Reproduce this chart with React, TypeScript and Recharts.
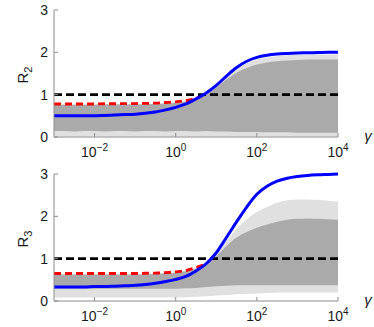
import React from 'react'
import { ComposedChart, Area, Line, XAxis, YAxis, ReferenceLine } from 'recharts'

// log10(gamma) sample positions
const LOG_GAMMA = [-3, -2.75, -2.5, -2.25, -2, -1.75, -1.5, -1.25, -1, -0.75, -0.5, -0.25, 0, 0.25, 0.5, 0.75, 1, 1.25, 1.5, 1.75, 2, 2.25, 2.5, 2.75, 3, 3.25, 3.5, 3.75, 4]
const X_TICKS = [-2, 0, 2, 4]
const Y_TICKS = [0, 1, 2, 3]
const THRESHOLD = 1

// R2 panel
const R2_BLUE = [0.5, 0.5, 0.5, 0.5, 0.5, 0.51, 0.52, 0.53, 0.54, 0.56, 0.59, 0.64, 0.7, 0.78, 0.9, 1.04, 1.22, 1.44, 1.64, 1.79, 1.88, 1.93, 1.96, 1.975, 1.985, 1.99, 1.995, 2, 2]
const R2_RED = [0.78, 0.78, 0.78, 0.78, 0.78, 0.785, 0.785, 0.79, 0.79, 0.795, 0.8, 0.815, 0.83, 0.86, 0.91, 1.04, null, null, null, null, null, null, null, null, null, null, null, null, null]
const R2_DENSE_LO = [0.14, 0.14, 0.13, 0.14, 0.14, 0.13, 0.14, 0.14, 0.13, 0.14, 0.14, 0.13, 0.14, 0.14, 0.13, 0.14, 0.13, 0.13, 0.12, 0.12, 0.12, 0.11, 0.11, 0.11, 0.1, 0.1, 0.1, 0.1, 0.1]
const R2_DENSE_HI = [0.76, 0.76, 0.76, 0.76, 0.76, 0.765, 0.765, 0.77, 0.77, 0.775, 0.78, 0.79, 0.81, 0.84, 0.88, 1.0, 1.17, 1.36, 1.52, 1.63, 1.71, 1.76, 1.79, 1.81, 1.82, 1.83, 1.83, 1.83, 1.83]
const R2_SPARSE_LO = [0.01, 0.01, 0.01, 0.01, 0.01, 0.01, 0.01, 0.01, 0.01, 0.01, 0.01, 0.01, 0.01, 0.01, 0.01, 0.01, 0.01, 0.01, 0.01, 0.01, 0.01, 0.01, 0.01, 0.01, 0.01, 0.01, 0.01, 0.01, 0.01]
const R2_SPARSE_HI = [0.77, 0.77, 0.77, 0.77, 0.77, 0.775, 0.775, 0.78, 0.78, 0.785, 0.79, 0.805, 0.82, 0.85, 0.89, 1.02, 1.2, 1.41, 1.6, 1.74, 1.83, 1.88, 1.91, 1.93, 1.94, 1.95, 1.95, 1.95, 1.95]

// R3 panel
const R3_BLUE = [0.33, 0.33, 0.33, 0.33, 0.34, 0.34, 0.35, 0.36, 0.37, 0.39, 0.42, 0.46, 0.51, 0.58, 0.71, 0.88, 1.14, 1.5, 1.87, 2.22, 2.52, 2.71, 2.83, 2.9, 2.94, 2.965, 2.98, 2.99, 3]
const R3_RED = [0.65, 0.65, 0.65, 0.65, 0.65, 0.65, 0.65, 0.65, 0.65, 0.655, 0.66, 0.67, 0.69, 0.72, 0.79, 0.88, null, null, null, null, null, null, null, null, null, null, null, null, null]
const R3_DENSE_LO = [0.29, 0.29, 0.29, 0.29, 0.29, 0.29, 0.29, 0.29, 0.29, 0.29, 0.29, 0.29, 0.29, 0.3, 0.31, 0.33, 0.35, 0.36, 0.37, 0.37, 0.37, 0.37, 0.37, 0.37, 0.37, 0.37, 0.37, 0.37, 0.37]
const R3_DENSE_HI = [0.62, 0.62, 0.62, 0.62, 0.62, 0.62, 0.62, 0.62, 0.62, 0.63, 0.64, 0.65, 0.67, 0.7, 0.76, 0.86, 1.05, 1.3, 1.5, 1.63, 1.73, 1.81, 1.87, 1.92, 1.94, 1.95, 1.94, 1.93, 1.92]
const R3_SPARSE_LO = [0.08, 0.08, 0.08, 0.08, 0.08, 0.08, 0.08, 0.08, 0.08, 0.08, 0.08, 0.08, 0.08, 0.09, 0.1, 0.11, 0.13, 0.14, 0.16, 0.17, 0.18, 0.19, 0.2, 0.2, 0.2, 0.2, 0.2, 0.2, 0.2]
const R3_SPARSE_HI = [0.645, 0.645, 0.645, 0.645, 0.645, 0.645, 0.645, 0.645, 0.645, 0.65, 0.655, 0.665, 0.685, 0.715, 0.785, 0.88, 1.12, 1.42, 1.7, 1.93, 2.1, 2.22, 2.32, 2.38, 2.4, 2.4, 2.39, 2.37, 2.35]

const AXIS = '#8c8c8c'
const TEXT = '#1a1a1a'
const FONT = '"Liberation Sans", Arial, sans-serif'

// plot box, in px of each 374x164 panel
const LEFT = 54
const RIGHT = 338
const BOTTOM = 137

const XTick = ({ x, payload }: any) => {
  const v = payload.value
  return (
    <g>
      <line x1={x} x2={x} y1={BOTTOM} y2={BOTTOM - 4} stroke={AXIS} />
      <text x={x} y={BOTTOM + 20} textAnchor="middle" fontSize={14} fill={TEXT} fontFamily={FONT}>
        10<tspan dy={-6} fontSize={10}>{v < 0 ? '\u2212' + Math.abs(v) : v}</tspan>
      </text>
    </g>
  )
}

const YTick = ({ y, payload }: any) => (
  <g>
    <line x1={LEFT} x2={LEFT + 4} y1={y} y2={y} stroke={AXIS} />
    <text x={LEFT - 6} y={y + 5} textAnchor="end" fontSize={14} fill={TEXT} fontFamily={FONT}>
      {payload.value}
    </text>
  </g>
)

function Panel({ sub, blue, red, dLo, dHi, sLo, sHi }: any) {
  const data = LOG_GAMMA.map((g, i) => ({
    g,
    blue: blue[i],
    red: red[i],
    dense: [dLo[i], dHi[i]],
    sparse: [sLo[i], sHi[i]],
  }))
  return (
    <div style={{ position: 'relative', width: 374, height: 164 }}>
      <ComposedChart width={374} height={164} data={data} margin={{ top: 10, right: 374 - RIGHT, bottom: 7, left: 24 }}>
        <XAxis dataKey="g" type="number" domain={[-3, 4]} ticks={X_TICKS} height={20}
               axisLine={{ stroke: AXIS }} tickLine={false} tick={<XTick />} />
        <YAxis type="number" domain={[0, 3]} ticks={Y_TICKS} width={30}
               axisLine={{ stroke: AXIS }} tickLine={false} tick={<YTick />} />
        <Area dataKey="sparse" type="monotone" stroke="none" fill="#e0e0e0" fillOpacity={1} isAnimationActive={false} />
        <Area dataKey="dense" type="monotone" stroke="none" fill="#aaaaaa" fillOpacity={1} isAnimationActive={false} />
        <Line dataKey="red" type="monotone" stroke="#ff0000" strokeWidth={2.8} strokeDasharray="7 4"
              dot={false} connectNulls={false} isAnimationActive={false} />
        <ReferenceLine y={THRESHOLD} stroke="#000000" strokeWidth={2.8} strokeDasharray="8 4" />
        <Line dataKey="blue" type="monotone" stroke="#0000ff" strokeWidth={3} dot={false} isAnimationActive={false} />
      </ComposedChart>
      <svg width={374} height={164} style={{ position: 'absolute', left: 0, top: 0, pointerEvents: 'none' }}>
        <text x={28} y={75} transform="rotate(-90 28 75)" textAnchor="middle" fontSize={15} fill={TEXT} fontFamily={FONT}>
          R<tspan dy={4} fontSize={11}>{sub}</tspan>
        </text>
        <text x={368} y={141} textAnchor="middle" fontSize={15} fontStyle="italic" fill={TEXT} fontFamily={FONT}>γ</text>
      </svg>
    </div>
  )
}

export default function App() {
  return (
    <div style={{ width: 374, height: 327, background: 'white', fontFamily: FONT }}>
      <style>{'body{margin:0}'}</style>
      <Panel sub="2" blue={R2_BLUE} red={R2_RED} dLo={R2_DENSE_LO} dHi={R2_DENSE_HI} sLo={R2_SPARSE_LO} sHi={R2_SPARSE_HI} />
      <Panel sub="3" blue={R3_BLUE} red={R3_RED} dLo={R3_DENSE_LO} dHi={R3_DENSE_HI} sLo={R3_SPARSE_LO} sHi={R3_SPARSE_HI} />
    </div>
  )
}
